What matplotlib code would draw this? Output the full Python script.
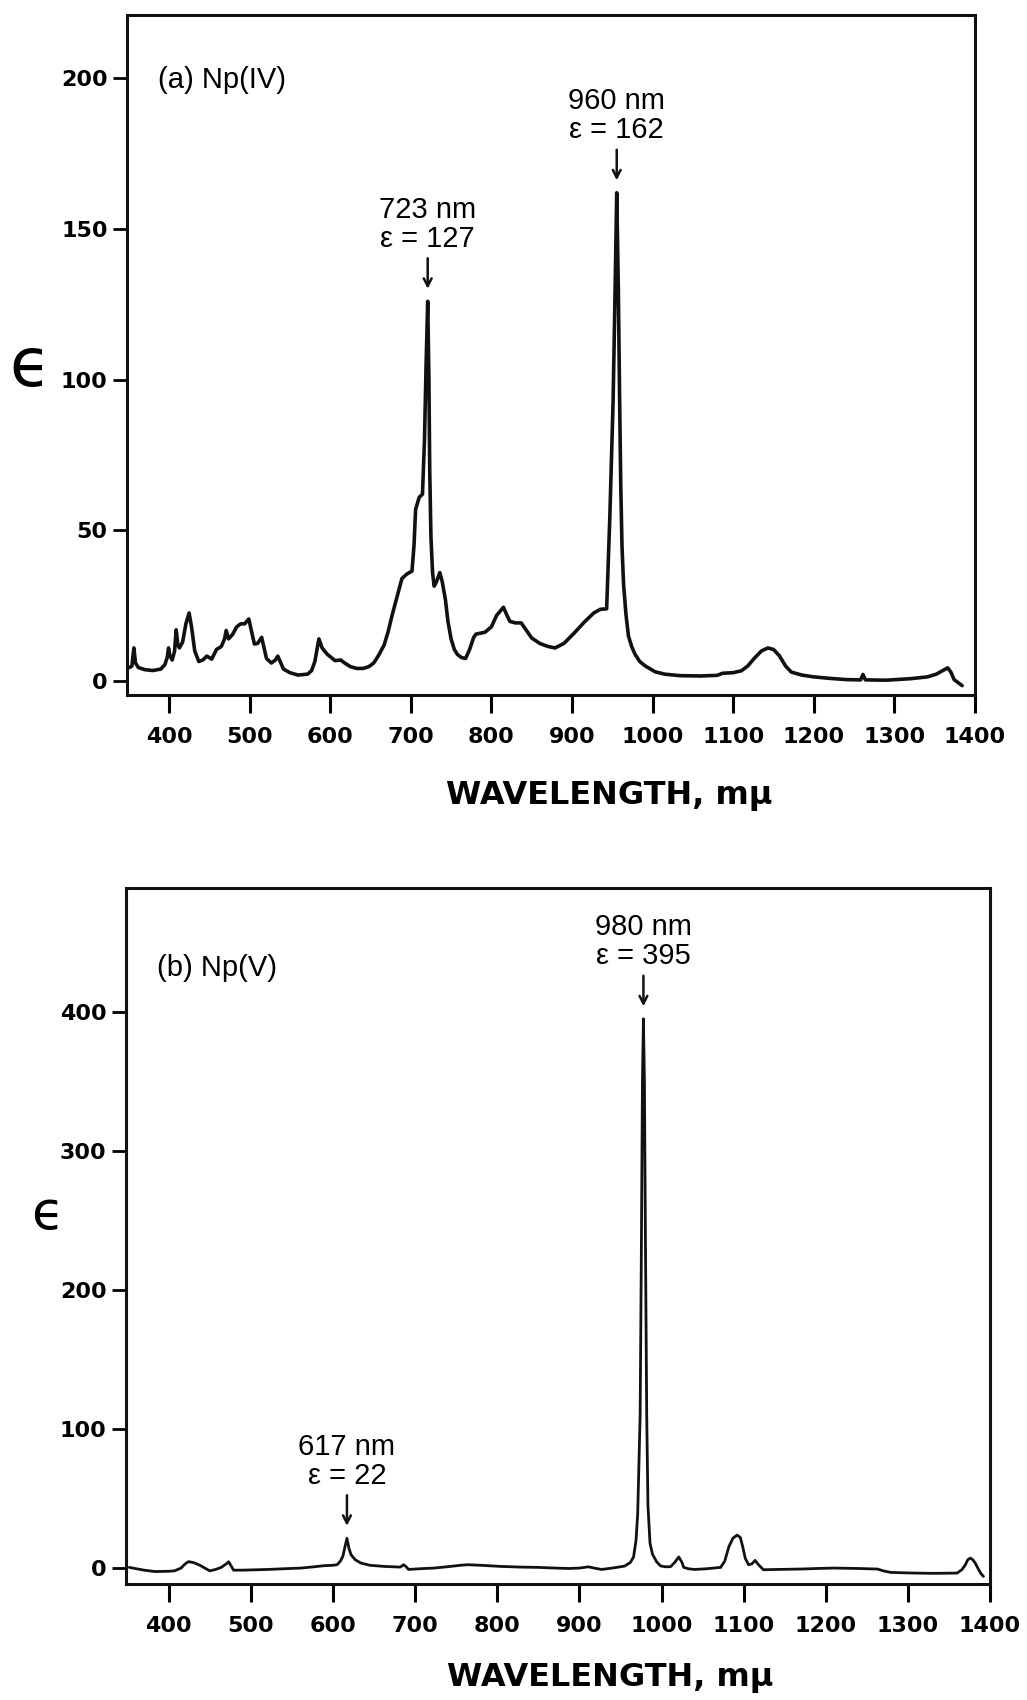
import numpy as np
import matplotlib
matplotlib.use("Agg")
import matplotlib.pyplot as plt

# ---------------- data ----------------
# (a) Np(IV) absorption spectrum
wl_a = [351, 354, 356.5, 358.5, 362, 370, 380, 390, 395, 398, 399.5, 401, 404, 407, 409, 411, 413, 417, 421, 425,
        428, 432, 437, 442, 447, 453, 459, 465, 469, 471, 474, 479, 484, 489, 494, 497, 499, 502, 506, 510,
        515, 518, 521, 527, 532, 535, 538, 542, 550, 560, 572, 577, 581, 584, 586, 590, 596, 606, 613, 618,
        625, 633, 641, 648, 654, 660, 667, 672, 677, 683, 685, 689, 695, 701.5, 704, 706, 710.5, 714.5, 717, 719,
        721, 722.5, 723.5, 725, 727, 729, 732, 736, 739, 743, 746, 750, 754, 758, 763, 768, 773, 778, 781, 792,
        800, 806.5, 815, 819, 823, 830, 837, 843, 850, 860, 870, 879, 890, 903, 915, 927, 935, 943, 947, 951,
        953.5, 955.5, 957.5, 959, 960.5, 962, 964, 967, 970, 974, 978, 984, 991, 1003, 1015, 1034, 1060, 1080, 1087, 1100,
        1110, 1118, 1126, 1135, 1143, 1150, 1157, 1165, 1172, 1185, 1200, 1220, 1240, 1258, 1261, 1264, 1290, 1320, 1341, 1352,
        1360, 1366, 1370, 1374, 1378, 1384]
eps_a = [4.5, 5, 11, 6, 4.5, 3.8, 3.5, 4, 5.5, 8, 11, 8.5, 7, 10, 17, 12, 11, 13, 19, 22.6,
         18, 10, 6.5, 7, 8.3, 7.3, 10.5, 11.5, 14, 16.8, 14, 15.5, 18, 19, 19, 20, 20.6, 17, 12.3, 12.5,
         14.5, 11, 7.5, 6, 7, 8.3, 6.5, 4, 2.8, 2, 2.3, 3.5, 6.5, 11, 14, 11, 9, 6.8, 7, 6,
         4.8, 4.2, 4.2, 4.8, 6, 8.5, 12, 16.5, 22, 28, 30, 34, 35.5, 36.5, 45, 57, 61, 62, 80, 105,
         126, 100, 70, 48, 36, 31.5, 33, 36, 33, 27, 20, 14, 10.5, 8.8, 7.8, 7.5, 10.5, 14.5, 15.6, 16.2,
         18, 21.8, 24.5, 22, 19.8, 19.3, 19.3, 17, 14.3, 12.5, 11.5, 11, 12.5, 16, 19.5, 22.6, 23.8, 24, 55, 93,
         130, 162, 130, 95, 65, 45, 32, 22, 15, 11.5, 9, 6.5, 5, 3.1, 2.3, 1.8, 1.7, 1.9, 2.6, 2.8,
         3.4, 5, 7.5, 10, 11, 10.5, 8.5, 5, 3, 2, 1.4, 0.9, 0.5, 0.4, 2.2, 0.4, 0.3, 0.8, 1.4, 2.3,
         3.5, 4.4, 3, 0.5, -0.3, -1.5]

# (b) Np(V) absorption spectrum
wl_b = [352, 356, 370, 383, 400, 407, 415, 420, 424, 430, 438, 444, 450, 457, 464, 470, 473, 476, 479, 490,
        520, 540, 561, 575, 589, 600, 605, 609, 612, 614.5, 617, 619.5, 622, 627, 634, 645, 662, 682, 686, 689,
        692, 705, 723, 740, 755, 764, 780, 804, 829, 850, 870, 887, 900, 911, 918, 927, 940, 955, 962, 966,
        969, 971, 974, 975.5, 976.8, 978, 979.2, 980.5, 982, 983.5, 986, 989, 994, 999, 1005, 1011, 1016, 1021, 1025, 1027,
        1033, 1040, 1055, 1072, 1077, 1082, 1087, 1092, 1096, 1099, 1102, 1106, 1110, 1114, 1118, 1124, 1140, 1169, 1190, 1210,
        1240, 1263, 1270, 1279, 1300, 1330, 1360, 1366, 1370, 1373, 1376, 1379, 1382, 1386, 1389, 1392]
eps_b = [0.5, 0, -1.5, -2.5, -2.3, -2, 0, 3, 4.6, 4, 2, 0, -2, -1, 0.5, 3, 4.5, 1.5, -1.5, -1.5,
         -1, -0.5, 0, 0.8, 1.7, 2, 2.4, 5, 8.4, 15, 21.4, 14, 9.6, 6, 3.6, 2, 1.2, 0.7, 2.4, 1,
         -1, -0.5, 0, 1, 2, 2.4, 2, 1.2, 0.7, 0.5, 0, -0.3, 0, 0.9, 0, -1, 0, 1.4, 4, 8,
         20, 39, 110, 230, 350, 395, 350, 230, 110, 45, 18, 10, 4.5, 1.5, 0.9, 1, 4, 8, 4, 0.5,
         -0.5, -1, -0.5, 0.5, 5, 15.3, 21.5, 23.7, 22, 15, 7, 2.4, 3, 5.5, 2.5, -1.2, -1, -0.7, -0.3, 0,
         -0.3, -0.7, -2, -3.1, -3.5, -3.8, -3.6, -1, 2.4, 6, 7.2, 6, 3.6, -1, -4, -6]

x_ticks = [400, 500, 600, 700, 800, 900, 1000, 1100, 1200, 1300, 1400]
y_ticks_a = [0, 50, 100, 150, 200]
y_ticks_b = [0, 100, 200, 300, 400]

panel_a_title = "(a) Np(IV)"
panel_b_title = "(b) Np(V)"
annot_a = [("723 nm\nε = 127", 721), ("960 nm\nε = 162", 956)]
annot_b = [("617 nm\nε = 22", 617), ("980 nm\nε = 395", 978)]
xlabel = "WAVELENGTH, mμ"
ylabel = "ϵ"

# ---------------- figure ----------------
fig = plt.figure(figsize=(10.27, 17.0), dpi=100)
ax1 = fig.add_axes([0.1237, 0.5912, 0.8257, 0.4000])
ax2 = fig.add_axes([0.1227, 0.0682, 0.8413, 0.4094])

ann_font = dict(family="Liberation Sans", fontsize=21)
tick_font = dict(family="DejaVu Sans", fontweight="bold", fontsize=16)


def style(ax, wl, eps, yticks, ylim, lw, title, annots, lab_xy, ylab_xy, ylab_size):
    ax.plot(wl, eps, color="#111111", lw=lw, solid_joinstyle="round", solid_capstyle="round")
    ax.set_xlim(348, 1400)
    ax.set_ylim(*ylim)
    ax.set_xticks(x_ticks)
    ax.set_yticks(yticks)
    ax.set_xticklabels([str(v) for v in x_ticks], **tick_font)
    ax.set_yticklabels([str(v) for v in yticks], **tick_font)
    ax.tick_params(axis="x", direction="out", length=13, width=2.2, pad=10)
    ax.tick_params(axis="y", direction="out", length=10, width=2.0, pad=4)
    for s in ax.spines.values():
        s.set_linewidth(2.2)
        s.set_color("#111111")
    ax.text(0.036, 0.905 if ylim[1] < 300 else 0.885, title, transform=ax.transAxes,
            ha="left", va="center", **ann_font)
    ax.set_xlabel(xlabel, family="DejaVu Sans", fontweight="bold", fontsize=23)
    ax.xaxis.set_label_coords(*lab_xy)
    ax.xaxis.label.set_va("top")
    ax.text(ylab_xy[0], ylab_xy[1], ylabel, transform=ax.transAxes, ha="center", va="center",
            family="DejaVu Sans", fontsize=ylab_size)
    wl_arr = np.asarray(wl)
    eps_arr = np.asarray(eps)
    for txt, loc in annots:
        m = np.abs(wl_arr - loc) < 6
        i = np.argmax(np.where(m, eps_arr, -1e9))
        px, py = wl_arr[i], eps_arr[i]
        ax.annotate(txt, xy=(px, py), xytext=(0, 35), textcoords="offset points",
                    ha="center", va="bottom", linespacing=1.05, **ann_font)
        ax.annotate("", xy=(px, py), xytext=(0, 31), textcoords="offset points",
                    arrowprops=dict(arrowstyle="->,head_length=0.55,head_width=0.28", lw=1.8,
                                    color="#111111", shrinkA=0, shrinkB=9))


style(ax1, wl_a, eps_a, y_ticks_a, (-4.6, 221), 2.6, panel_a_title, annot_a, (0.568, -0.125),
      (-0.114, 0.482), 48)
style(ax2, wl_b, eps_b, y_ticks_b, (-11.5, 489), 2.0, panel_b_title, annot_b, (0.56, -0.112),
      (-0.091, 0.532), 38)

fig.savefig("out.png", dpi=100, facecolor="white")
